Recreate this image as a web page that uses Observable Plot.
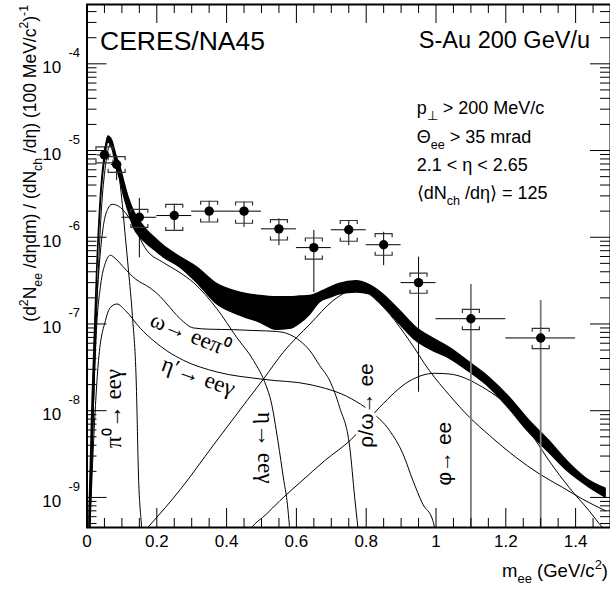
<!DOCTYPE html>
<html><head><meta charset="utf-8">
<script src="https://cdn.jsdelivr.net/npm/d3@7"></script>
<script src="https://cdn.jsdelivr.net/npm/@observablehq/plot@0.6"></script>
<style>
html,body{margin:0;padding:0;background:#fff;overflow:hidden;}
svg{display:block;}
</style></head><body><div id="chart"></div>
<script>
// ---------- data ----------
// measured points (m_ee bins)
const ptX    = [0.05, 0.085, 0.15, 0.25, 0.35, 0.45, 0.55, 0.65, 0.75, 0.85, 0.95, 1.1, 1.3];
const ptY    = [8.9e-6, 6.9e-6, 1.7e-6, 1.78e-6, 2.0e-6, 2.0e-6, 1.25e-6, 7.6e-7, 1.22e-6, 8.2e-7, 3.0e-7, 1.15e-7, 6.9e-8];
const ptXLo  = [0.03, 0.07, 0.1, 0.2, 0.3, 0.4, 0.5, 0.6, 0.7, 0.8, 0.9, 1.0, 1.2];
const ptXHi  = [0.07, 0.1, 0.2, 0.3, 0.4, 0.5, 0.6, 0.7, 0.8, 0.9, 1.0, 1.2, 1.4];
const statLo = [7.1e-6, 4.5e-6, 5.8e-7, 1.2e-6, 1.5e-6, 1.3e-6, 8.0e-7, 2.3e-7, 8.0e-7, 4.7e-7, 1.63e-8, 1e-10, 1e-10];
const statHi = [1.11e-5, 8.7e-6, 2.8e-6, 2.4e-6, 2.6e-6, 2.55e-6, 1.63e-6, 1.2e-6, 1.56e-6, 1.14e-6, 5.9e-7, 2.85e-7, 1.86e-7];
const sysLo  = [7.2e-6, 5.6e-6, 1.3e-6, 1.2e-6, 1.5e-6, 1.45e-6, 9.3e-7, 5.6e-7, 9.0e-7, 6.2e-7, 2.26e-7, 8.6e-8, 5.2e-8];
const sysHi  = [1.1e-5, 8.5e-6, 2.1e-6, 2.4e-6, 2.6e-6, 2.55e-6, 1.6e-6, 9.8e-7, 1.56e-6, 1.1e-6, 3.85e-7, 1.47e-7, 8.9e-8];

// total cocktail band
const bandX  = [0.007,0.016,0.029,0.041,0.053,0.061,0.072,0.084,0.096,0.107,0.119,0.134,0.153,0.172,0.196,0.219,0.267,0.315,0.372,0.439,0.496,0.543,0.581,0.61,0.639,0.667,0.696,0.724,0.772,0.81,0.848,0.896,0.943,0.991,1.039,1.096,1.153,1.21,1.267,1.324,1.381,1.439,1.486];
const bandHi = [6e-10,1.3e-8,4.1e-7,3.5e-6,1.0e-5,1.45e-5,1.3e-5,8.7e-6,6.4e-6,4.3e-6,2.9e-6,2.0e-6,1.5e-6,1.2e-6,9.7e-7,8.0e-7,5.9e-7,4.5e-7,2.9e-7,2.3e-7,2.1e-7,2.03e-7,2.03e-7,2.07e-7,2.1e-7,2.3e-7,2.6e-7,2.9e-7,3.1e-7,2.8e-7,2.2e-7,1.43e-7,9.1e-8,6.8e-8,5.3e-8,3.6e-8,2.4e-8,1.43e-8,7.7e-9,4.5e-9,2.5e-9,1.56e-9,1.26e-9];
const bandLo = [4e-10,1.0e-8,3.6e-7,3.0e-6,8.7e-6,1.24e-5,1.08e-5,6.7e-6,4.5e-6,2.9e-6,2.0e-6,1.3e-6,1.0e-6,8.4e-7,7.0e-7,5.9e-7,4.5e-7,3.0e-7,1.7e-7,1.25e-7,1.04e-7,8.6e-8,8.8e-8,1.01e-7,1.28e-7,1.77e-7,2.0e-7,2.2e-7,2.3e-7,2.2e-7,1.63e-7,1.0e-7,6.4e-8,4.9e-8,4.0e-8,2.8e-8,1.86e-8,1.05e-8,5.6e-9,3.3e-9,1.95e-9,1.31e-9,1.0e-9];

// cocktail components
const pi0X = [0.008,0.018,0.03,0.041,0.053,0.061,0.069,0.079,0.087,0.096,0.11,0.119,0.13,0.141,0.148,0.155,0.16];
const pi0Y = [4e-10,1.0e-8,2.4e-7,2.0e-6,6.7e-6,1.05e-5,1.2e-5,1.0e-5,7e-6,3.8e-6,1.0e-6,4.1e-7,1.25e-7,2.2e-8,1.56e-9,5.4e-10,3e-10];
const etaX = [0.006,0.016,0.024,0.034,0.047,0.059,0.072,0.096,0.124,0.172,0.219,0.267,0.305,0.372,0.429,0.477,0.513,0.527,0.547,0.564,0.573,0.584];
const etaY = [3e-10,4.5e-9,8.4e-8,4.1e-7,1.36e-6,2.1e-6,2.4e-6,2.2e-6,1.6e-6,7.0e-7,5.1e-7,3.9e-7,3.0e-7,1.5e-7,7.0e-8,3.8e-8,1.95e-8,1.3e-8,4.5e-9,1.56e-9,9.2e-10,3e-10];
const omegaDX = [0.006,0.016,0.027,0.039,0.053,0.067,0.081,0.105,0.139,0.181,0.21,0.229,0.267,0.305,0.353,0.419,0.481,0.543,0.581,0.61,0.639,0.667,0.696,0.724,0.753,0.767,0.781];
const omegaDY = [3e-10,5.9e-9,8.4e-8,2.8e-7,5.1e-7,6.2e-7,5.7e-7,4.5e-7,3.3e-7,2.6e-7,2.07e-7,1.7e-7,1.15e-7,9.0e-8,8.7e-8,8.6e-8,8.4e-8,8.2e-8,7.55e-8,6.4e-8,4.9e-8,3.3e-8,2.2e-8,1.09e-8,3.75e-9,1.0e-9,3e-10];
const etapX = [0.007,0.019,0.033,0.053,0.067,0.086,0.11,0.153,0.191,0.229,0.277,0.372,0.505,0.639,0.758,0.81,0.867,0.905,0.934,0.962,0.991,1.003];
const etapY = [3e-10,4.5e-9,3.8e-8,1.1e-7,1.55e-7,1.7e-7,1.43e-7,8.9e-8,6.4e-8,4.9e-8,3.8e-8,2.8e-8,2.3e-8,2.0e-8,1.37e-8,1.0e-8,5.9e-9,3.2e-9,1.56e-9,8.4e-10,5.4e-10,3e-10];
const rhoX = [0.152,0.2,0.224,0.267,0.362,0.458,0.505,0.562,0.639,0.705,0.739,0.767,0.796,0.824,0.867,0.924,0.981,1.039,1.096,1.153,1.229,1.296,1.362,1.419,1.486];
const rhoY = [3.6e-10,5.9e-10,7.6e-10,1.23e-9,4.0e-9,1.3e-8,2.3e-8,4.7e-8,1.0e-7,1.86e-7,2.3e-7,2.6e-7,2.4e-7,1.96e-7,1.3e-7,6.4e-8,2.9e-8,1.5e-8,8.4e-9,5.2e-9,2.9e-9,1.87e-9,1.31e-9,9.6e-10,7.0e-10];
const phiX = [0.453,0.48,0.51,0.553,0.61,0.681,0.758,0.839,0.924,0.996,1.039,1.134,1.229,1.286,1.324,1.381,1.439,1.477,1.5];
const phiY = [3.6e-10,4.9e-10,6.2e-10,9.2e-10,1.48e-9,2.65e-9,4.7e-9,1.1e-8,2.2e-8,2.7e-8,2.65e-8,1.86e-8,9.2e-9,4.5e-9,2.65e-9,1.31e-9,7.0e-10,4.5e-10,3.6e-10];

// curve labels: text, position (data coords), rotation
const labelText = ["π⁰→ eeγ", "ω→ eeπ⁰", "η′→ eeγ", "η→ eeγ", "ρ/ω→ ee", "φ→ ee"];
const labelX    = [0.076, 0.296, 0.319, 0.51, 0.80, 1.024];
const labelY    = [1.06e-8, 7.6e-8, 2.5e-8, 3.75e-9, 1.15e-8, 3.2e-9];
const labelRot  = [-90, 22, 20, 90, -90, -90];
const labelSerif= [true, true, true, true, false, false];

// axis ticks
const xMajor = [0, 0.2, 0.4, 0.6, 0.8, 1.0, 1.2, 1.4];
const xMinor = [0.05,0.1,0.15,0.25,0.3,0.35,0.45,0.5,0.55,0.65,0.7,0.75,0.85,0.9,0.95,1.05,1.1,1.15,1.25,1.3,1.35,1.45];
const yExp   = [-9, -8, -7, -6, -5, -4];

// ---------- build ----------
const yMin = 4.5e-10, yMax = 4.83e-4;
const yMajor = yExp.map(e => Math.pow(10, e));
const yMinor = [];
for (let e = -10; e <= -4; e++) for (let k = 2; k <= 9; k++) {
  const v = k * Math.pow(10, e);
  if (v > yMin && v < yMax) yMinor.push(v);
}
const pts = ptX.map((x, i) => ({x, y: ptY[i], xLo: ptXLo[i], xHi: ptXHi[i], sLo: statLo[i], sHi: statHi[i], yLo: sysLo[i], yHi: sysHi[i]}));
const band = bandX.map((x, i) => ({x, lo: bandLo[i], hi: bandHi[i]}));
const series = [
  ["pi0", pi0X, pi0Y], ["eta", etaX, etaY], ["omegaD", omegaDX, omegaDY],
  ["etap", etapX, etapY], ["rho", rhoX, rhoY], ["phi", phiX, phiY]
];
const curves = series.flatMap(([name, xs, ys]) => xs.map((x, i) => ({name, x, y: ys[i]})));
const labels = labelText.map((t, i) => ({t, x: labelX[i], y: labelY[i], r: labelRot[i], serif: labelSerif[i]}));

const W = 610, H = 590, mL = 86.5, mR = 0, mT = 4, mB = 63;
const innerW = W - mL - mR, innerH = H - mT - mB;

const bracketTop = {draw(ctx) { ctx.moveTo(-8.5, 3.5); ctx.lineTo(-8.5, 0); ctx.lineTo(8.5, 0); ctx.lineTo(8.5, 3.5); }};
const bracketBot = {draw(ctx) { ctx.moveTo(-8.5, -3.5); ctx.lineTo(-8.5, 0); ctx.lineTo(8.5, 0); ctx.lineTo(8.5, -3.5); }};
const fmtX = d => String(+d.toFixed(1));

const chart = Plot.plot({
  width: W, height: H,
  marginLeft: mL, marginRight: mR, marginTop: mT, marginBottom: mB,
  x: {domain: [0, 1.5], axis: null},
  y: {type: "log", domain: [yMin, yMax], axis: null},
  style: {fontFamily: "'Liberation Sans', Arial, Helvetica, sans-serif", background: "white", color: "black"},
  marks: [
    Plot.line(curves, {x: "x", y: "y", z: "name", stroke: "black", strokeWidth: 1, curve: "monotone-x", clip: true}),
    Plot.areaY(band, {x: "x", y1: "lo", y2: "hi", fill: "black", stroke: "black", strokeWidth: 1.5, curve: "monotone-x", clip: true}),
    // error bars
    Plot.ruleY(pts, {y: "y", x1: "xLo", x2: "xHi", stroke: "black", strokeWidth: 1, clip: true}),
    Plot.ruleX(pts, {x: "x", y1: "sLo", y2: "sHi", stroke: d => d.sLo < yMin ? "#7a7a7a" : "black", strokeWidth: d => d.sLo < yMin ? 1.8 : 1, clip: true}),
    Plot.dot(pts, {x: "x", y: "yHi", symbol: bracketTop, stroke: "#333", fill: "none", strokeWidth: 1.2, r: 1}),
    Plot.dot(pts, {x: "x", y: "yLo", symbol: bracketBot, stroke: "#333", fill: "none", strokeWidth: 1.2, r: 1}),
    Plot.dot(pts, {x: "x", y: "y", r: 4.7, fill: "black", stroke: "none"}),
    // ticks (inward, ROOT style)
    Plot.ruleX(xMajor, {x: d => d, insetTop: innerH - 19, strokeWidth: 1}),
    Plot.ruleX(xMajor, {x: d => d, insetBottom: innerH - 19, strokeWidth: 1}),
    Plot.ruleX(xMinor, {x: d => d, insetTop: innerH - 9, strokeWidth: 1}),
    Plot.ruleX(xMinor, {x: d => d, insetBottom: innerH - 9, strokeWidth: 1}),
    Plot.ruleY(yMajor, {y: d => d, insetRight: innerW - 20, strokeWidth: 1}),
    Plot.ruleY(yMajor, {y: d => d, insetLeft: innerW - 20, strokeWidth: 1}),
    Plot.ruleY(yMinor, {y: d => d, insetRight: innerW - 10, strokeWidth: 1}),
    Plot.ruleY(yMinor, {y: d => d, insetLeft: innerW - 10, strokeWidth: 1}),
    Plot.frame({stroke: "black", strokeWidth: 2}),
    // tick labels
    Plot.text(xMajor, {x: d => d, text: fmtX, frameAnchor: "bottom", dy: 19, fontSize: 17}),
    Plot.text(yMajor, {y: d => d, text: () => "10", frameAnchor: "left", textAnchor: "end", dx: -25.8, dy: 4, fontSize: 17}),
    Plot.text(yExp, {y: d => Math.pow(10, d), text: d => String(d), frameAnchor: "left", textAnchor: "start", dx: -18.5, dy: -11, fontSize: 13}),
    // curve labels
    Plot.text(labels.filter(d => d.serif), {x: "x", y: "y", text: "t", rotate: "r", fontSize: 23, fontFamily: "'Liberation Serif', 'Times New Roman', serif"}),
    Plot.text(labels.filter(d => !d.serif), {x: "x", y: "y", text: "t", rotate: "r", fontSize: 21, stroke: "white", strokeWidth: 7, fill: "black"})
  ]
});
document.getElementById("chart").appendChild(chart);

// ---------- rich-text annotations (sub/superscripts) ----------
const svg = d3.select(chart);
const FONT = "'Liberation Sans', Arial, Helvetica, sans-serif";
function rich(x, y, parts, size, opts = {}) {
  const t = svg.append("text").attr("x", x).attr("y", y)
    .attr("font-family", FONT).attr("font-size", size).attr("fill", "black")
    .attr("text-anchor", opts.anchor || "start");
  if (opts.rotate) t.attr("transform", `rotate(${opts.rotate},${x},${y})`);
  let shift = 0;
  for (const [s, kind] of parts) {
    const target = kind === "sub" ? size * 0.33 : kind === "sup" ? -size * 0.45 : 0;
    t.append("tspan").attr("dy", target - shift).attr("font-size", kind ? size * 0.7 : size).text(s);
    shift = target;
  }
  return t;
}
rich(100, 50, [["CERES/NA45"]], 26.5);
rich(590, 47.7, [["S-Au 200 GeV/u"]], 23.5, {anchor: "end"});
rich(416.7, 114, [["p"], ["⊥", "sub"], [" > 200 MeV/c"]], 18);
rich(416.7, 143, [["Θ"], ["ee", "sub"], [" > 35 mrad"]], 18);
rich(416.7, 171, [["2.1 < η < 2.65"]], 18);
rich(416.7, 199, [["⟨dN"], ["ch", "sub"], [" /dη⟩ = 125"]], 18);
rich(608, 577, [["m"], ["ee", "sub"], [" (GeV/c"], ["2", "sup"], [")"]], 18.5, {anchor: "end"});
rich(36, 5, [["(d"], ["2", "sup"], ["N"], ["ee", "sub"], [" /dηdm) / (dN"], ["ch", "sub"], [" /dη) (100 MeV/c"], ["2", "sup"], [")"], ["-1", "sup"]], 17.5, {anchor: "end", rotate: -90});
</script></body></html>
